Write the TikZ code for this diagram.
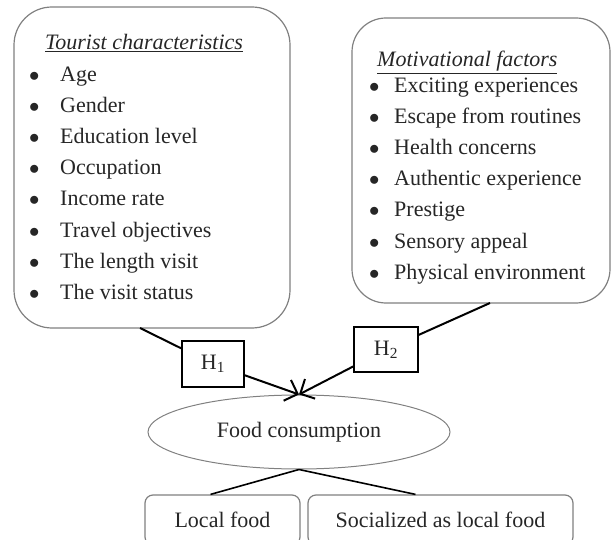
\documentclass[tikz,border=0pt]{standalone}
\usepackage{fontspec}
\setmainfont{Liberation Serif}
\usetikzlibrary{shapes.geometric,arrows.meta}

\tikzset{
  bigbox/.style={draw=black!50,line width=1.2pt,rounded corners=38pt},
  item/.style={anchor=base west,inner sep=0pt,text=black!85},
  hbox/.style={draw,line width=1.6pt,minimum width=62pt,minimum height=46pt,text=black!85},
  foodbox/.style={draw=black!50,line width=1.2pt,rounded corners=8pt,minimum height=50pt,text=black!85},
}

\begin{document}
\begin{tikzpicture}[x=1pt,y=-1pt,font=\fontsize{22}{26}\selectfont]
 \useasboundingbox (0,0) rectangle (613,540);

 % the two factor boxes
 \node[bigbox,minimum width=276pt,minimum height=321pt](tourist) at (152,167.5){};
 \node[bigbox,rounded corners=34pt,minimum width=258pt,minimum height=285pt](motive) at (481,160.5){};

 \node[item](ttitle) at (45,50){\itshape\underline{Tourist characteristics}};
 \node[item](t1) at (29,82){\makebox[31pt][l]{$\bullet$}Age};
 \node[item](t2) at (29,113){\makebox[31pt][l]{$\bullet$}Gender};
 \node[item](t3) at (29,144){\makebox[31pt][l]{$\bullet$}Education level};
 \node[item](t4) at (29,175){\makebox[31pt][l]{$\bullet$}Occupation};
 \node[item](t5) at (29,206){\makebox[31pt][l]{$\bullet$}Income rate};
 \node[item](t6) at (29,237){\makebox[31pt][l]{$\bullet$}Travel objectives};
 \node[item](t7) at (29,268){\makebox[31pt][l]{$\bullet$}The length visit};
 \node[item](t8) at (29,299){\makebox[31pt][l]{$\bullet$}The visit status};

 \node[item](mtitle) at (377,67){\itshape\underline{Motivational factors}};
 \node[item](m1) at (369,93){\makebox[25pt][l]{$\bullet$}Exciting experiences};
 \node[item](m2) at (369,124){\makebox[25pt][l]{$\bullet$}Escape from routines};
 \node[item](m3) at (369,155){\makebox[25pt][l]{$\bullet$}Health concerns};
 \node[item](m4) at (369,186){\makebox[25pt][l]{$\bullet$}Authentic experience};
 \node[item](m5) at (369,217){\makebox[25pt][l]{$\bullet$}Prestige};
 \node[item](m6) at (369,248){\makebox[25pt][l]{$\bullet$}Sensory appeal};
 \node[item](m7) at (369,279){\makebox[25pt][l]{$\bullet$}Physical environment};

 % hypotheses
 \node[hbox](h1) at (213,364){H\textsubscript{1}};
 \node[hbox,minimum width=64pt,minimum height=45pt](h2) at (386,349.5){H\textsubscript{2}};

 \node[draw=black!50,line width=1pt,ellipse,minimum width=302pt,minimum height=74pt,text=black!85](food) at (299,432){Food consumption};

 \node[foodbox,minimum width=155pt](local) at (222.5,520){Local food};
 \node[foodbox,minimum width=265pt](social) at (440.5,520){Socialized as local food};

 \coordinate (a1) at (140,328);
 \coordinate (a2) at (490,303);

 \draw [line width=2pt] (a1) -- (h1);
 \draw [line width=2pt] (a2) -- (h2);
 \draw [line width=2pt,-{Straight Barb[length=11pt,width=22pt]}] (h1) -- (food.north);
 \draw [line width=2pt,-{Straight Barb[length=11pt,width=22pt]}] (h2) -- (food.north);

 \draw [line width=1.6pt] (food.south) -- ([xshift=-12pt]local.north);
 \draw [line width=1.6pt] (food.south) -- ([xshift=-25pt]social.north);

\end{tikzpicture}
\end{document}
